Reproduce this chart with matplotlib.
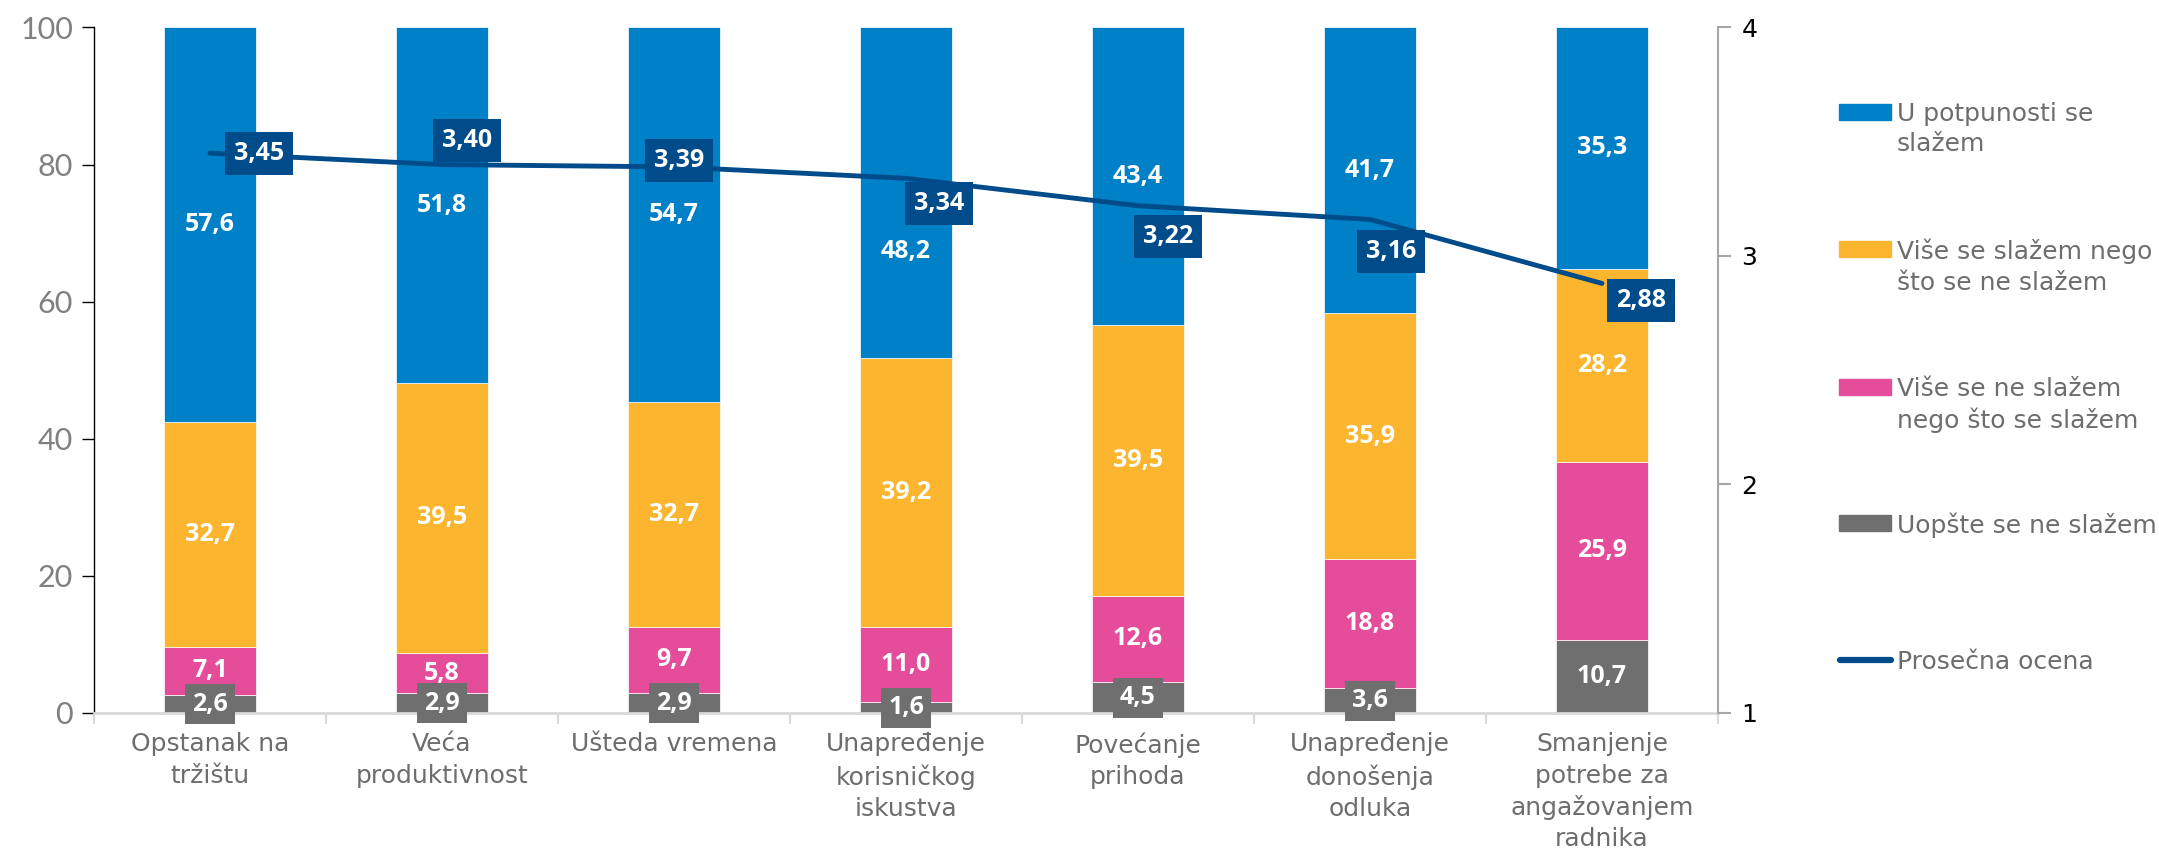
import numpy as np
import matplotlib
matplotlib.use("Agg")
import matplotlib.pyplot as plt
from matplotlib.patches import Rectangle
from matplotlib.lines import Line2D

# data
categories = ["Opstanak na\ntržištu", "Veća\nproduktivnost", "Ušteda vremena",
              "Unapređenje\nkorisničkog\niskustva", "Povećanje\nprihoda",
              "Unapređenje\ndonošenja\nodluka",
              "Smanjenje\npotrebe za\nangažovanjem\nradnika"]
uopste = [2.6, 2.9, 2.9, 1.6, 4.5, 3.6, 10.7]
vise_ne = [7.1, 5.8, 9.7, 11.0, 12.6, 18.8, 25.9]
vise_da = [32.7, 39.5, 32.7, 39.2, 39.5, 35.9, 28.2]
potpuno = [57.6, 51.8, 54.7, 48.2, 43.4, 41.7, 35.3]
prosek = [3.45, 3.40, 3.39, 3.34, 3.22, 3.16, 2.88]

series_names = ["U potpunosti se\nslažem", "Više se slažem nego\nšto se ne slažem",
                "Više se ne slažem\nnego što se slažem", "Uopšte se ne slažem"]
line_name = "Prosečna ocena"

# styles
c_blue = "#0080C6"
c_orange = "#FBB52F"
c_pink = "#E54D9A"
c_gray = "#706F6F"
c_line = "#004B8A"
# label offsets (pixels) for the average labels
lbl_off = [(49, 0), (25, 24), (5, 6), (33, -25), (30, -31), (21, -32), (39, -17)]
# vertical nudge (pixels) of the blue bar labels (one was moved by hand in the original)
blue_nudge = [0, 0, 0, -59, 0, 0, 0]

DPI = 100
fig = plt.figure(figsize=(21.59, 8.55), dpi=DPI)
W, H = 2159, 855
ax = fig.add_axes([94 / W, 1 - 713 / H, (1718 - 94) / W, (713 - 27.5) / H])

x = np.arange(len(categories))
bw = 0.40
stack = [(uopste, c_gray), (vise_ne, c_pink), (vise_da, c_orange), (potpuno, c_blue)]
bottom = np.zeros(len(x))
lab_font = dict(family="Open Sans", weight="bold", size=18, color="white")
for vals, col in stack:
    vals = np.array(vals)
    ax.bar(x, vals, bw, bottom=bottom, color=col, edgecolor="white", linewidth=0.5, zorder=2)
    for i, (xi, b, v) in enumerate(zip(x, bottom, vals)):
        txt = f"{v:.1f}".replace(".", ",")
        dy = blue_nudge[i] if col == c_blue else 0
        if col == c_gray:
            ax.text(xi, b + v / 2, txt, ha="center", va="center", zorder=5,
                    bbox=dict(boxstyle="square,pad=0.3", fc=c_gray, ec="none"), **lab_font)
        else:
            ax.annotate(txt, (xi, b + v / 2), xytext=(0, dy), textcoords="offset pixels",
                        ha="center", va="center", zorder=5, **lab_font)
    bottom = bottom + vals

ax.set_xlim(-0.5, len(x) - 0.5)
ax.set_ylim(0, 100)
ax.set_yticks(np.arange(0, 101, 20))
ax.tick_params(axis="y", labelsize=22, labelcolor="#808080", length=9, width=1, color="black", pad=6)
for t in ax.get_yticklabels():
    t.set_family("Lato")
ax.set_xticks(x)
ax.set_xticklabels(categories, fontsize=18, color="#6d6d6d", linespacing=1.38, family="DejaVu Sans")
ax.tick_params(axis="x", length=0, pad=14)
ax.set_xticks(np.arange(-0.5, len(x), 1), minor=True)
ax.tick_params(axis="x", which="minor", length=8, color="#d9d9d9", width=1.5)
ax.spines["top"].set_visible(False)
ax.spines["right"].set_visible(False)
ax.spines["left"].set_color("black")
ax.spines["left"].set_linewidth(1)
ax.spines["bottom"].set_color("#d9d9d9")
ax.spines["bottom"].set_linewidth(2)

# secondary axis
ax2 = ax.twinx()
ax2.plot(x, prosek, color=c_line, lw=3.5, solid_capstyle="round", zorder=3)
ax2.set_ylim(1, 4)
ax2.set_yticks([1, 2, 3, 4])
ax2.tick_params(axis="y", labelsize=18, labelcolor="black", length=9, color="#a6a6a6", width=1.5, pad=8)
for s in ["top", "left", "bottom"]:
    ax2.spines[s].set_visible(False)
ax2.spines["right"].set_color("#a6a6a6")
ax2.spines["right"].set_linewidth(1.5)
for xi, v, (dx, dy) in zip(x, prosek, lbl_off):
    ax2.annotate(f"{v:.2f}".replace(".", ","), (xi, v), xytext=(dx, dy), textcoords="offset pixels",
                 ha="center", va="center", zorder=6,
                 bbox=dict(boxstyle="square,pad=0.36", fc=c_line, ec="none"), **lab_font)

# legend, drawn by hand to keep patches on the first text line
leg_y = [112, 249, 387, 523, 660]
for yy, name, col in zip(leg_y, series_names, [c_blue, c_orange, c_pink, c_gray]):
    fig.add_artist(Rectangle((1839 / W, 1 - (yy + 8) / H), 52 / W, 16 / H,
                             transform=fig.transFigure, color=col))
    fig.text(1897 / W, 1 - (yy - 10) / H, name, ha="left", va="top", fontsize=18,
             color="#6d6d6d", linespacing=1.32, family="DejaVu Sans")
fig.add_artist(Line2D([1840 / W, 1891 / W], [1 - leg_y[4] / H] * 2, transform=fig.transFigure,
                      color=c_line, lw=4.5, solid_capstyle="round"))
fig.text(1897 / W, 1 - (leg_y[4] - 10) / H, line_name, ha="left", va="top", fontsize=18,
         color="#6d6d6d", family="DejaVu Sans")

fig.savefig("out.png", dpi=DPI)
